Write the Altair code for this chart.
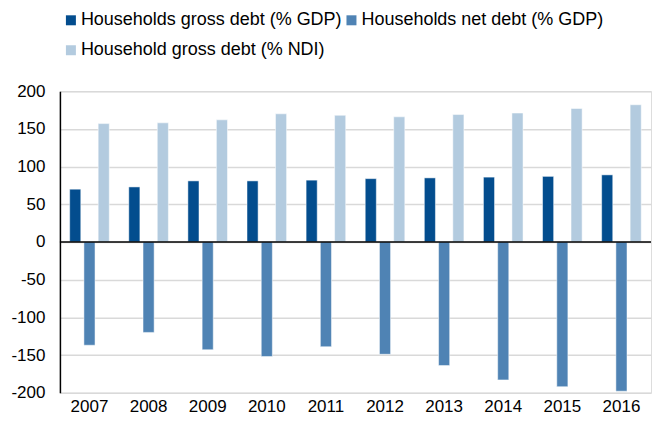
import altair as alt
import pandas as pd

years = ["2007", "2008", "2009", "2010", "2011", "2012", "2013", "2014", "2015", "2016"]
gross_gdp = [70, 73, 81, 81, 82, 84, 85, 86, 87, 89]
net_gdp = [-137, -120, -143, -152, -139, -149, -164, -183, -192, -198]
gross_ndi = [157, 158, 162, 170, 168, 166, 169, 171, 177, 182]

series_names = ["Households gross debt (% GDP)", "Households net debt (% GDP)", "Household gross debt (% NDI)"]
series_colors = ["#034D8E", "#4F83B4", "#B3CBDF"]
y_ticks = [-200, -150, -100, -50, 0, 50, 100, 150, 200]

rows = []
for name, vals in zip(series_names, [gross_gdp, net_gdp, gross_ndi]):
    for yr, v in zip(years, vals):
        rows.append({"year": yr, "series": name, "value": v})
df = pd.DataFrame(rows)

font = "Liberation Sans"

y_axis = alt.Axis(values=y_ticks, labelFontSize=17, labelColor="black", labelExpr="'' + datum.value",
                  labelFont=font, ticks=False, domainColor="black", domainWidth=1.5,
                  gridColor="#D9D9D9", gridWidth=1.5, labelPadding=15, labelOverlap=False)

bars = alt.Chart(df).mark_bar(stroke="white", strokeWidth=0.5).encode(
    x=alt.X("year:N", sort=years, title=None,
            scale=alt.Scale(paddingInner=0.33, paddingOuter=0.165),
            axis=alt.Axis(labelAngle=0, ticks=False, domain=False, labelFontSize=17,
                          labelColor="black", labelFont=font, labelPadding=6)),
    xOffset=alt.XOffset("series:N", sort=series_names,
                        scale=alt.Scale(paddingInner=0.22, paddingOuter=0.0)),
    y=alt.Y("value:Q", title=None,
            scale=alt.Scale(domain=[-200, 200], nice=False),
            axis=y_axis),
    color=alt.Color("series:N", sort=series_names,
                    scale=alt.Scale(domain=series_names, range=series_colors),
                    legend=alt.Legend(title=None, orient="none", legendX=2, legendY=-80,
                                      direction="horizontal", columns=2, symbolType="square",
                                      symbolSize=100, labelFontSize=18, labelFont=font,
                                      labelColor="black", labelLimit=400, rowPadding=12,
                                      columnPadding=0, symbolStrokeWidth=0,
                                      labelOffset=1)),
)

zero = alt.Chart(pd.DataFrame({"y": [0]})).mark_rule(color="black", strokeWidth=1.5).encode(
    y=alt.Y("y:Q", axis=y_axis)
)

chart = alt.layer(bars, zero).properties(
    width=592, height=302, padding={"top": 3, "left": 2, "right": 0, "bottom": 0}
).configure_view(stroke=None).configure(font=font)

chart.save("out.html", embed_options={"renderer": "svg", "actions": False})
